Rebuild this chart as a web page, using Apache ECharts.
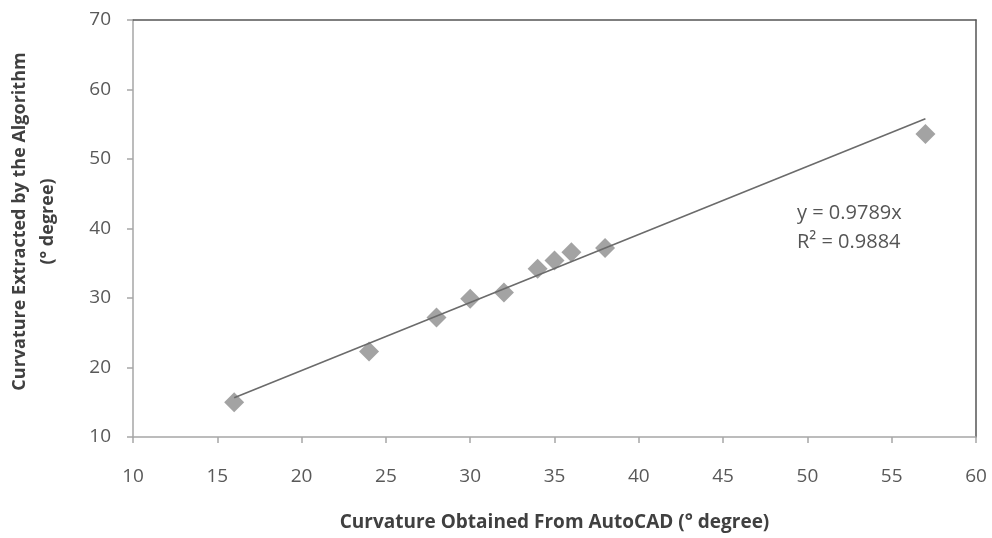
<!DOCTYPE html>
<html><head><meta charset="utf-8">
<script src="https://cdn.jsdelivr.net/npm/echarts@6/dist/echarts.min.js"></script>
<style>html,body{margin:0;padding:0;background:#fff}#c{width:992px;height:538px}</style>
</head><body><div id="c"></div>
<script>
const autocadX = [16, 24, 28, 30, 32, 34, 35, 36, 38, 57];
const algorithmY = [15.0, 22.3, 27.2, 29.9, 30.8, 34.2, 35.4, 36.6, 37.2, 53.6];
const trendX = [16, 57];
const trendY = [15.66, 55.8];
const xTicks = [10, 15, 20, 25, 30, 35, 40, 45, 50, 55, 60];
const yTicks = [10, 20, 30, 40, 50, 60, 70];
const eqText = ['y = 0.9789x', 'R² = 0.9884'];

const FONT = '"Open Sans", "Liberation Sans", sans-serif';
const chart = echarts.init(document.getElementById('c'));
const pts = autocadX.map((x, i) => [x, algorithmY[i]]);
const trend = trendX.map((x, i) => [x, trendY[i]]);

chart.setOption({
  animation: false,
  backgroundColor: '#fff',
  grid: { left: 133, right: 16, top: 20, bottom: 101, containLabel: false, outerBoundsMode: 'none' },
  xAxis: [{
    type: 'value', min: xTicks[0], max: xTicks[xTicks.length - 1], interval: 5,
    splitLine: { show: false },
    axisLine: { show: true, lineStyle: { color: '#a6a6a6', width: 1.5 } },
    axisTick: { show: true, length: 6, lineStyle: { color: '#a6a6a6', width: 1.5 } },
    axisLabel: { color: '#595959', fontSize: 19, fontFamily: FONT, margin: 30 },
    name: 'Curvature Obtained From AutoCAD (° degree)',
    nameLocation: 'middle', nameGap: 76,
    nameTextStyle: { color: '#404040', fontSize: 19, fontWeight: 'bold', fontFamily: FONT }
  }, {
    type: 'value', position: 'top', min: 10, max: 60, interval: 5,
    axisLine: { show: true, onZero: false, lineStyle: { color: '#555', width: 1.5 } },
    axisTick: { show: false }, axisLabel: { show: false }, splitLine: { show: false }
  }],
  yAxis: [{
    type: 'value', min: yTicks[0], max: yTicks[yTicks.length - 1], interval: 10,
    splitLine: { show: false },
    axisLine: { show: true, lineStyle: { color: '#a6a6a6', width: 1.5 } },
    axisTick: { show: true, length: 6, lineStyle: { color: '#a6a6a6', width: 1.5 } },
    axisLabel: { color: '#595959', fontSize: 19, fontFamily: FONT, margin: 22 },
    name: 'Curvature Extracted by the Algorithm\n(° degree)',
    nameLocation: 'middle', nameGap: 71, nameRotate: 90,
    nameTextStyle: { color: '#404040', fontSize: 18, fontWeight: 'bold', fontFamily: FONT, lineHeight: 28, align: 'center', padding: [0, 0, 0, 14] }
  }, {
    type: 'value', position: 'right', min: 10, max: 70, interval: 10,
    axisLine: { show: true, onZero: false, lineStyle: { color: '#555', width: 1.5 } },
    axisTick: { show: false }, axisLabel: { show: false }, splitLine: { show: false }
  }],
  series: [{
    type: 'line', data: trend, symbol: 'none', z: 3,
    lineStyle: { color: '#6b6b6b', width: 1.6 }
  }, {
    type: 'scatter', data: pts, symbol: 'diamond', symbolSize: [20, 20], z: 2,
    itemStyle: { color: '#8c8c8c' }
  }],
  graphic: [{
    type: 'text', left: 797, top: 199,
    style: { text: eqText.join('\n'), fill: '#555', fontSize: 20, fontFamily: FONT, lineHeight: 29 }
  }]
});
</script></body></html>
